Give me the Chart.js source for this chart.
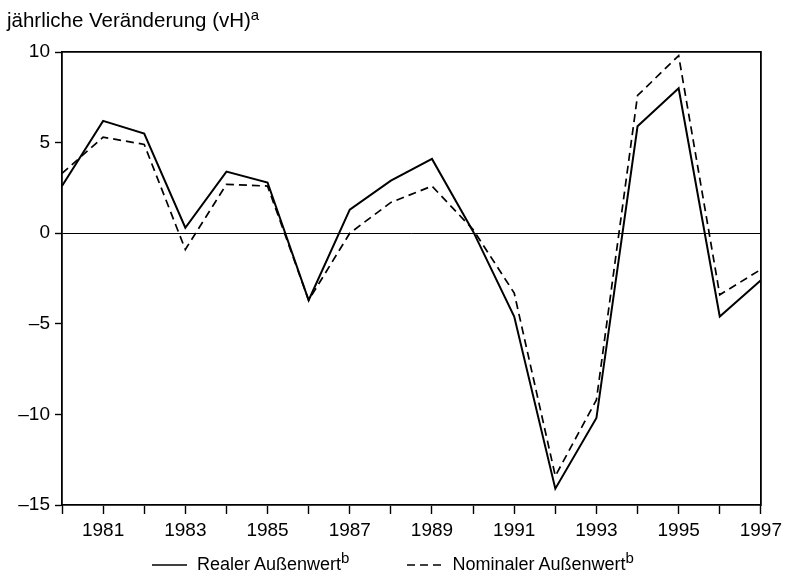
<!DOCTYPE html>
<html lang="de">
<head>
<meta charset="utf-8">
<title>Außenwert</title>
<script src="https://cdn.jsdelivr.net/npm/chart.js@4.4.1/dist/chart.umd.min.js"></script>
<style>
    html, body {
        margin: 0;
        padding: 0;
        background: #fff;
    }

    .wrap {
        position: relative;
        width: 787px;
        height: 582px;
        font-family: "Liberation Sans", Arial, sans-serif;
        color: #000;
    }

    .chart-title {
        position: absolute;
        left: 7px;
        top: 8px;
        font-size: 20.5px;
    }

    .chart-title sup,
    .legend sup {
        font-size: 15px;
        vertical-align: 7px;
        line-height: 0;
    }

    .legend {
        position: absolute;
        left: 152px;
        top: 554px;
        display: flex;
        font-size: 18px;
    }

    .legend-item {
        display: flex;
        align-items: center;
        margin-right: 58px;
    }

    .legend-item svg {
        margin-right: 10px;
    }
</style>
</head>
<body>
<div class="wrap">
    <canvas id="chart" width="787" height="582"></canvas>
    <div class="chart-title">jährliche Veränderung (vH)<sup>a</sup></div>
    <div class="legend" id="legend"></div>
</div>
<script>
const years = [
    1980, 1981, 1982, 1983, 1984, 1985, 1986, 1987, 1988,
    1989, 1990, 1991, 1992, 1993, 1994, 1995, 1996, 1997,
];
const realerAussenwert = [
    2.6, 6.2, 5.5, 0.3, 3.4, 2.8, -3.7, 1.3, 2.9,
    4.1, 0.1, -4.6, -14.1, -10.2, 5.9, 8.0, -4.6, -2.6,
];
const nominalerAussenwert = [
    3.3, 5.3, 4.9, -0.9, 2.7, 2.6, -3.7, 0.0, 1.7,
    2.6, 0.2, -3.3, -13.4, -9.2, 7.6, 9.8, -3.4, -2.0,
];
const seriesNames = ["Realer Außenwert", "Nominaler Außenwert"];
const yTicks = [-15, -10, -5, 0, 5, 10];

const fontFamily = "'Liberation Sans', Arial, sans-serif";

function formatNumber(value) {
    return value < 0 ? "\u2013" + Math.abs(value) : String(value);
}

const chart = new Chart(document.getElementById("chart"), {
    type: "line",
    data: {
        labels: years,
        datasets: [
            {
                label: seriesNames[0],
                data: realerAussenwert,
                borderColor: "#000",
                borderWidth: 2,
                pointRadius: 0,
                tension: 0,
            },
            {
                label: seriesNames[1],
                data: nominalerAussenwert,
                borderColor: "#000",
                borderWidth: 1.7,
                borderDash: [8, 5],
                pointRadius: 0,
                tension: 0,
            },
        ],
    },
    options: {
        responsive: false,
        animation: false,
        layout: {
            padding: { top: 52, right: 26, left: 0, bottom: 0 },
        },
        plugins: {
            legend: { display: false },
            tooltip: { enabled: false },
        },
        scales: {
            x: {
                type: "category",
                position: "bottom",
                offset: false,
                afterFit: (scale) => { scale.height = 77; },
                border: { display: true, color: "#000", width: 1.8 },
                grid: {
                    drawOnChartArea: false,
                    tickColor: "#000",
                    tickLength: 9,
                    tickWidth: 1.4,
                },
                ticks: {
                    autoSkip: false,
                    maxRotation: 0,
                    color: "#000",
                    padding: 5,
                    font: { family: fontFamily, size: 19 },
                    callback: function (value) {
                        const year = this.getLabelForValue(value);
                        return year % 2 === 1 ? String(year) : "";
                    },
                },
            },
            xTop: {
                type: "category",
                position: "top",
                offset: false,
                afterFit: (scale) => { scale.height = 0; },
                border: { display: true, color: "#000", width: 1.8 },
                grid: { display: false },
                ticks: { display: false },
            },
            y: {
                type: "linear",
                position: "left",
                min: yTicks[0],
                max: yTicks[yTicks.length - 1],
                afterFit: (scale) => { scale.width = 62; },
                afterBuildTicks: (scale) => {
                    scale.ticks = yTicks.map((value) => ({ value }));
                },
                border: { display: true, color: "#000", width: 1.8 },
                grid: {
                    color: (ctx) => (ctx.tick && ctx.tick.value === 0 ? "#000" : "rgba(0,0,0,0)"),
                    lineWidth: 1,
                    tickColor: "#000",
                    tickLength: 7,
                    tickWidth: 1.4,
                },
                ticks: {
                    color: "#000",
                    padding: 5,
                    font: { family: fontFamily, size: 19 },
                    callback: (value) => formatNumber(value),
                },
            },
            yRight: {
                type: "linear",
                position: "right",
                min: yTicks[0],
                max: yTicks[yTicks.length - 1],
                afterFit: (scale) => { scale.width = 0; },
                border: { display: true, color: "#000", width: 1.8 },
                grid: { display: false },
                ticks: { display: false },
            },
        },
    },
});

const legendBox = document.getElementById("legend");
chart.data.datasets.forEach((dataset) => {
    const item = document.createElement("div");
    item.className = "legend-item";
    const dash = dataset.borderDash ? dataset.borderDash.join(",") : "none";
    item.innerHTML = `
        <svg width="35" height="4"><line x1="0" y1="2" x2="35" y2="2" stroke="#000" stroke-width="1.6" stroke-dasharray="${dash}"/></svg>
        <span>${dataset.label}<sup>b</sup></span>
    `;
    legendBox.appendChild(item);
});
</script>
</body>
</html>
